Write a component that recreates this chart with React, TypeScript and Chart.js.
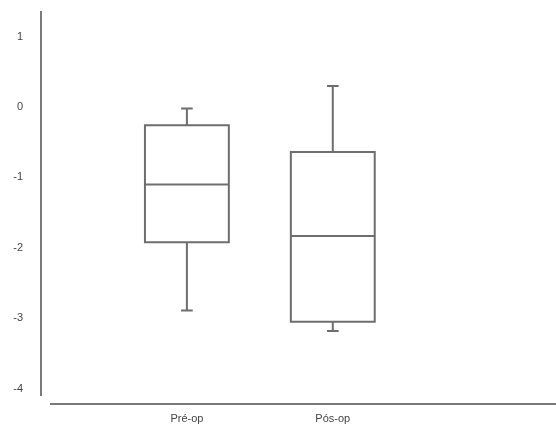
import React, { useEffect, useRef } from "react";
import { Chart, registerables } from "chart.js";

Chart.register(...registerables);

const categories = ["Pré-op", "Pós-op"];
const mins = [-2.89, -3.18];
const q1s = [-1.92, -3.05];
const medians = [-1.1, -1.83];
const q3s = [-0.26, -0.64];
const maxs = [-0.02, 0.3];
const yTicks = [-4, -3, -2, -1, 0, 1];

const LINE = "#6e6e6e";
const AXIS = "#7a7a7a";
const TEXT = "#444444";
const FONT = "'Liberation Sans', Arial, sans-serif";

const boxPlugin = {
  id: "boxplot",
  afterDatasetsDraw(chart: any) {
    const { ctx, scales, chartArea } = chart;
    const xs = scales.x;
    const ys = scales.y;
    ctx.save();
    ctx.strokeStyle = LINE;
    ctx.lineWidth = 2;
    categories.forEach((_, i) => {
      const xc = xs.getPixelForValue(i + 1);
      const half = xs.getPixelForValue(i + 1 + 0.2875) - xc;
      const cap = xs.getPixelForValue(i + 1 + 0.04) - xc;
      const yMin = ys.getPixelForValue(mins[i]);
      const yQ1 = ys.getPixelForValue(q1s[i]);
      const yMed = ys.getPixelForValue(medians[i]);
      const yQ3 = ys.getPixelForValue(q3s[i]);
      const yMax = ys.getPixelForValue(maxs[i]);
      ctx.beginPath();
      ctx.rect(xc - half, yQ3, half * 2, yQ1 - yQ3);
      ctx.moveTo(xc - half, yMed);
      ctx.lineTo(xc + half, yMed);
      ctx.moveTo(xc, yQ3);
      ctx.lineTo(xc, yMax);
      ctx.moveTo(xc - cap, yMax);
      ctx.lineTo(xc + cap, yMax);
      ctx.moveTo(xc, yQ1);
      ctx.lineTo(xc, yMin);
      ctx.moveTo(xc - cap, yMin);
      ctx.lineTo(xc + cap, yMin);
      ctx.stroke();
    });
    // horizontal baseline
    ctx.strokeStyle = AXIS;
    ctx.beginPath();
    ctx.moveTo(chartArea.left + 9, chartArea.bottom + 9);
    ctx.lineTo(chart.width, chartArea.bottom + 9);
    ctx.stroke();
    ctx.restore();
  },
};

export default function App() {
  const ref = useRef<HTMLCanvasElement>(null);
  useEffect(() => {
    if (!ref.current) return;
    const chart = new Chart(ref.current, {
      type: "scatter",
      data: {
        datasets: [
          {
            data: categories.map((_, i) => ({ x: i + 1, y: medians[i] })),
            pointRadius: 0,
            pointHoverRadius: 0,
          },
        ],
      },
      options: {
        animation: false,
        responsive: false,
        events: [],
        layout: { padding: { top: 0, right: 0, left: 0, bottom: 0 } },
        plugins: { legend: { display: false }, tooltip: { enabled: false } },
        scales: {
          x: {
            type: "linear",
            min: 0,
            max: 3.53,
            afterBuildTicks: (s: any) => {
              s.ticks = categories.map((_, i) => ({ value: i + 1 }));
            },
            afterFit: (s: any) => {
              s.height = 36;
              s.paddingLeft = 0;
              s.paddingRight = 0;
            },
            grid: { display: false, drawTicks: false },
            border: { display: false },
            ticks: {
              padding: 17,
              maxRotation: 0,
              autoSkip: false,
              color: TEXT,
              font: { family: FONT, size: 11 },
              callback: (v: any) => categories[Math.round(Number(v)) - 1] ?? "",
            },
          },
          y: {
            type: "linear",
            min: -4.09,
            max: 1.35,
            afterBuildTicks: (s: any) => {
              s.ticks = yTicks.map((v) => ({ value: v }));
            },
            afterFit: (s: any) => {
              s.width = 41;
              s.paddingTop = 12;
              s.paddingBottom = 0;
            },
            grid: { display: false, drawTicks: false },
            border: { display: true, color: AXIS, width: 2 },
            ticks: {
              padding: 18,
              color: TEXT,
              font: { family: FONT, size: 11 },
            },
          },
        },
      },
      plugins: [boxPlugin],
    });
    return () => chart.destroy();
  }, []);
  return (
    <div style={{ position: "fixed", left: 0, top: 0, width: 556, height: 431, background: "#fff" }}>
      <canvas ref={ref} width={556} height={431} style={{ width: 556, height: 431 }} />
    </div>
  );
}
